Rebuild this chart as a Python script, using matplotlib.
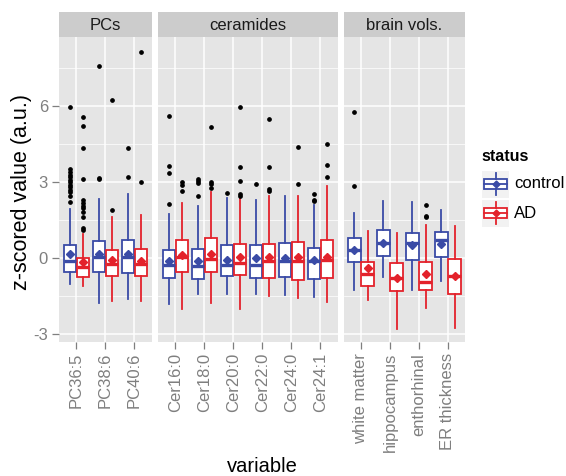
import numpy as np
import matplotlib.pyplot as plt
from matplotlib.patches import Rectangle

plt.rcParams['font.family'] = ['Liberation Sans', 'DejaVu Sans']

panels = ['PCs', 'ceramides', 'brain vols.']
panel_vars = [
    ['PC36:5', 'PC38:6', 'PC40:6'],
    ['Cer16:0', 'Cer18:0', 'Cer20:0', 'Cer22:0', 'Cer24:0', 'Cer24:1'],
    ['white matter', 'hippocampus', 'enthorhinal', 'ER thickness'],
]
groups = ['control', 'AD']

# per variable: whisker low, q1, median, q3, whisker high, mean
control_stats = [
    [-1.03, -0.57, -0.14, 0.51, 1.93, 0.13],
    [-1.79, -0.57, 0.03, 0.68, 2.33, 0.13],
    [-1.62, -0.61, 0.05, 0.71, 2.53, 0.13],
    [-1.82, -0.79, -0.30, 0.32, 1.74, -0.14],
    [-1.45, -0.83, -0.33, 0.36, 2.03, -0.14],
    [-1.45, -0.71, -0.28, 0.51, 2.37, -0.07],
    [-1.42, -0.79, -0.28, 0.51, 2.29, -0.01],
    [-1.49, -0.76, -0.14, 0.59, 2.43, -0.01],
    [-1.55, -0.83, -0.14, 0.39, 2.07, -0.08],
    [-1.26, -0.17, 0.29, 0.78, 1.78, 0.32],
    [-0.76, 0.07, 0.59, 1.08, 2.26, 0.59],
    [-1.26, -0.08, 0.58, 0.97, 2.22, 0.51],
    [-0.93, 0.03, 0.71, 1.01, 1.89, 0.55],
]
ad_stats = [
    [-1.13, -0.75, -0.37, -0.01, 0.96, -0.17],
    [-1.72, -0.71, -0.24, 0.29, 1.63, -0.10],
    [-1.72, -0.74, -0.26, 0.34, 1.70, -0.13],
    [-2.01, -0.57, 0.03, 0.71, 2.17, 0.12],
    [-1.78, -0.57, -0.04, 0.78, 2.59, 0.16],
    [-2.01, -0.70, -0.21, 0.55, 2.39, 0.05],
    [-1.53, -0.79, -0.11, 0.55, 2.43, 0.05],
    [-1.59, -0.86, -0.11, 0.62, 2.46, 0.03],
    [-1.75, -0.79, -0.08, 0.71, 2.82, 0.05],
    [-1.66, -1.13, -0.66, -0.17, 1.04, -0.41],
    [-2.80, -1.32, -0.79, -0.21, 0.99, -0.79],
    [-1.97, -1.29, -0.97, -0.17, 1.30, -0.66],
    [-2.76, -1.45, -0.74, -0.05, 1.25, -0.74],
]
control_outliers = [
    [5.97, 3.51, 3.41, 3.29, 3.18, 3.08, 2.99, 2.88, 2.79, 2.68, 2.59, 2.46, 2.20],
    [7.59, 3.14, 3.10],
    [4.33, 3.18],
    [5.62, 3.64, 3.34, 2.13],
    [3.12, 3.04, 2.96, 2.43],
    [2.55],
    [2.92],
    [],
    [2.53, 2.30, 2.24],
    [5.78, 2.82],
    [],
    [],
    [],
]
ad_outliers = [
    [5.58, 5.22, 4.33, 3.13, 2.29, 2.16, 2.06, 1.97, 1.80, 1.63, 1.18, 1.08],
    [6.25, 1.89],
    [8.14, 3.01],
    [3.01, 2.86, 2.63],
    [5.16, 2.99, 2.93, 2.76],
    [5.95, 3.60, 3.05, 2.53, 2.45],
    [5.49, 3.60, 2.72, 2.66],
    [4.37, 2.92],
    [4.50, 3.68, 3.21],
    [],
    [],
    [2.07, 1.67, 1.61],
    [],
]

colors = {'control': '#3A4BA6', 'AD': '#E3222B'}
panel_bg = '#E5E5E5'
strip_bg = '#CCCCCC'
tick_grey = '#7F7F7F'

W, H = 566, 476
fig = plt.figure(figsize=(W / 100, H / 100), dpi=100)

def fx(px):
    return px / W

def fy(py):
    return 1 - py / H

unit = 29.0
gap = 6.0
left = 59.0
top, bottom = 37.0, 342.0
strip_top = 12.5

ylim = (-3.33, 8.73)

def make_stat(s, fl):
    return {'whislo': s[0], 'q1': s[1], 'med': s[2], 'q3': s[3],
            'whishi': s[4], 'mean': s[5], 'fliers': fl}

x0 = left
k = 0
for p, (pname, vars_) in enumerate(zip(panels, panel_vars)):
    n = len(vars_)
    wpx = (n + 0.2) * unit
    ax = fig.add_axes([fx(x0), fy(bottom), wpx / W, (bottom - top) / H])
    ax.set_facecolor(panel_bg)
    ax.set_xlim(-0.6, n - 0.4)
    ax.set_ylim(*ylim)
    for sp in ax.spines.values():
        sp.set_visible(False)

    # grid
    for yv in [-1.5, 1.5, 4.5, 7.5]:
        ax.axhline(yv, color='white', lw=0.5, zorder=0)
    for yv in [-3, 0, 3, 6]:
        ax.axhline(yv, color='white', lw=1.1, zorder=0)
    for xv in range(n):
        ax.axvline(xv, color='white', lw=1.1, zorder=0)

    for g, (stats, outl, off) in enumerate([(control_stats, control_outliers, -0.225),
                                             (ad_stats, ad_outliers, 0.225)]):
        col = colors[groups[g]]
        bst = [make_stat(stats[k + i], outl[k + i]) for i in range(n)]
        ax.bxp(bst, positions=np.arange(n) + off, widths=0.42,
               patch_artist=True, showcaps=False, showmeans=True,
               boxprops=dict(facecolor='white', edgecolor=col, lw=1.3),
               whiskerprops=dict(color=col, lw=1.3),
               medianprops=dict(color=col, lw=2.4),
               meanprops=dict(marker='D', markerfacecolor=col,
                              markeredgecolor=col, markersize=4.2),
               flierprops=dict(marker='o', markerfacecolor='black',
                               markeredgecolor='black', markersize=2.4),
               manage_ticks=False, zorder=3)

    ax.set_xticks(np.arange(n))
    ax.set_xticklabels(vars_, rotation=90, fontsize=12, color=tick_grey)
    ax.set_yticks([-3, 0, 3, 6])
    ax.tick_params(axis='both', length=5, width=0.9, color=tick_grey, pad=3)
    if p == 0:
        ax.set_yticklabels(['-3', '0', '3', '6'], fontsize=12, color=tick_grey)
    else:
        ax.tick_params(axis='y', left=False, labelleft=False)

    # strip
    sax = fig.add_axes([fx(x0), fy(top), wpx / W, (top - strip_top) / H])
    sax.set_facecolor(strip_bg)
    sax.set_xticks([])
    sax.set_yticks([])
    for sp in sax.spines.values():
        sp.set_visible(False)
    sax.text(0.5, 0.47, pname, ha='center', va='center', fontsize=12,
             color='#1A1A1A', transform=sax.transAxes)

    x0 += wpx + gap
    k += n

# axis titles
fig.text(fx(262), fy(466), 'variable', ha='center', va='center', fontsize=14.5)
fig.text(fx(22), fy(192), 'z-scored value (a.u.)', ha='center', va='center',
         rotation=90, fontsize=15.5)

# legend
fig.text(fx(481), fy(157), 'status', ha='left', va='center', fontsize=11.5,
         fontweight='bold')
for i, g in enumerate(groups):
    cy = 184 + i * 29
    kax = fig.add_axes([fx(482), fy(cy + 13.5), 27 / W, 27 / H])
    kax.set_facecolor('#F2F2F2')
    kax.set_xlim(0, 1)
    kax.set_ylim(0, 1)
    kax.set_xticks([])
    kax.set_yticks([])
    for sp in kax.spines.values():
        sp.set_visible(False)
    col = colors[g]
    kax.add_patch(Rectangle((0.08, 0.32), 0.84, 0.36, facecolor='white',
                            edgecolor=col, lw=1.3))
    kax.plot([0.5, 0.5], [0.1, 0.32], color=col, lw=1.3)
    kax.plot([0.5, 0.5], [0.68, 0.9], color=col, lw=1.3)
    kax.plot([0.08, 0.92], [0.5, 0.5], color=col, lw=1.3)
    kax.plot([0.5], [0.5], marker='D', color=col, markersize=3.5)
    fig.text(fx(514), fy(cy), g, ha='left', va='center', fontsize=12)

fig.savefig('out.png', dpi=100)
